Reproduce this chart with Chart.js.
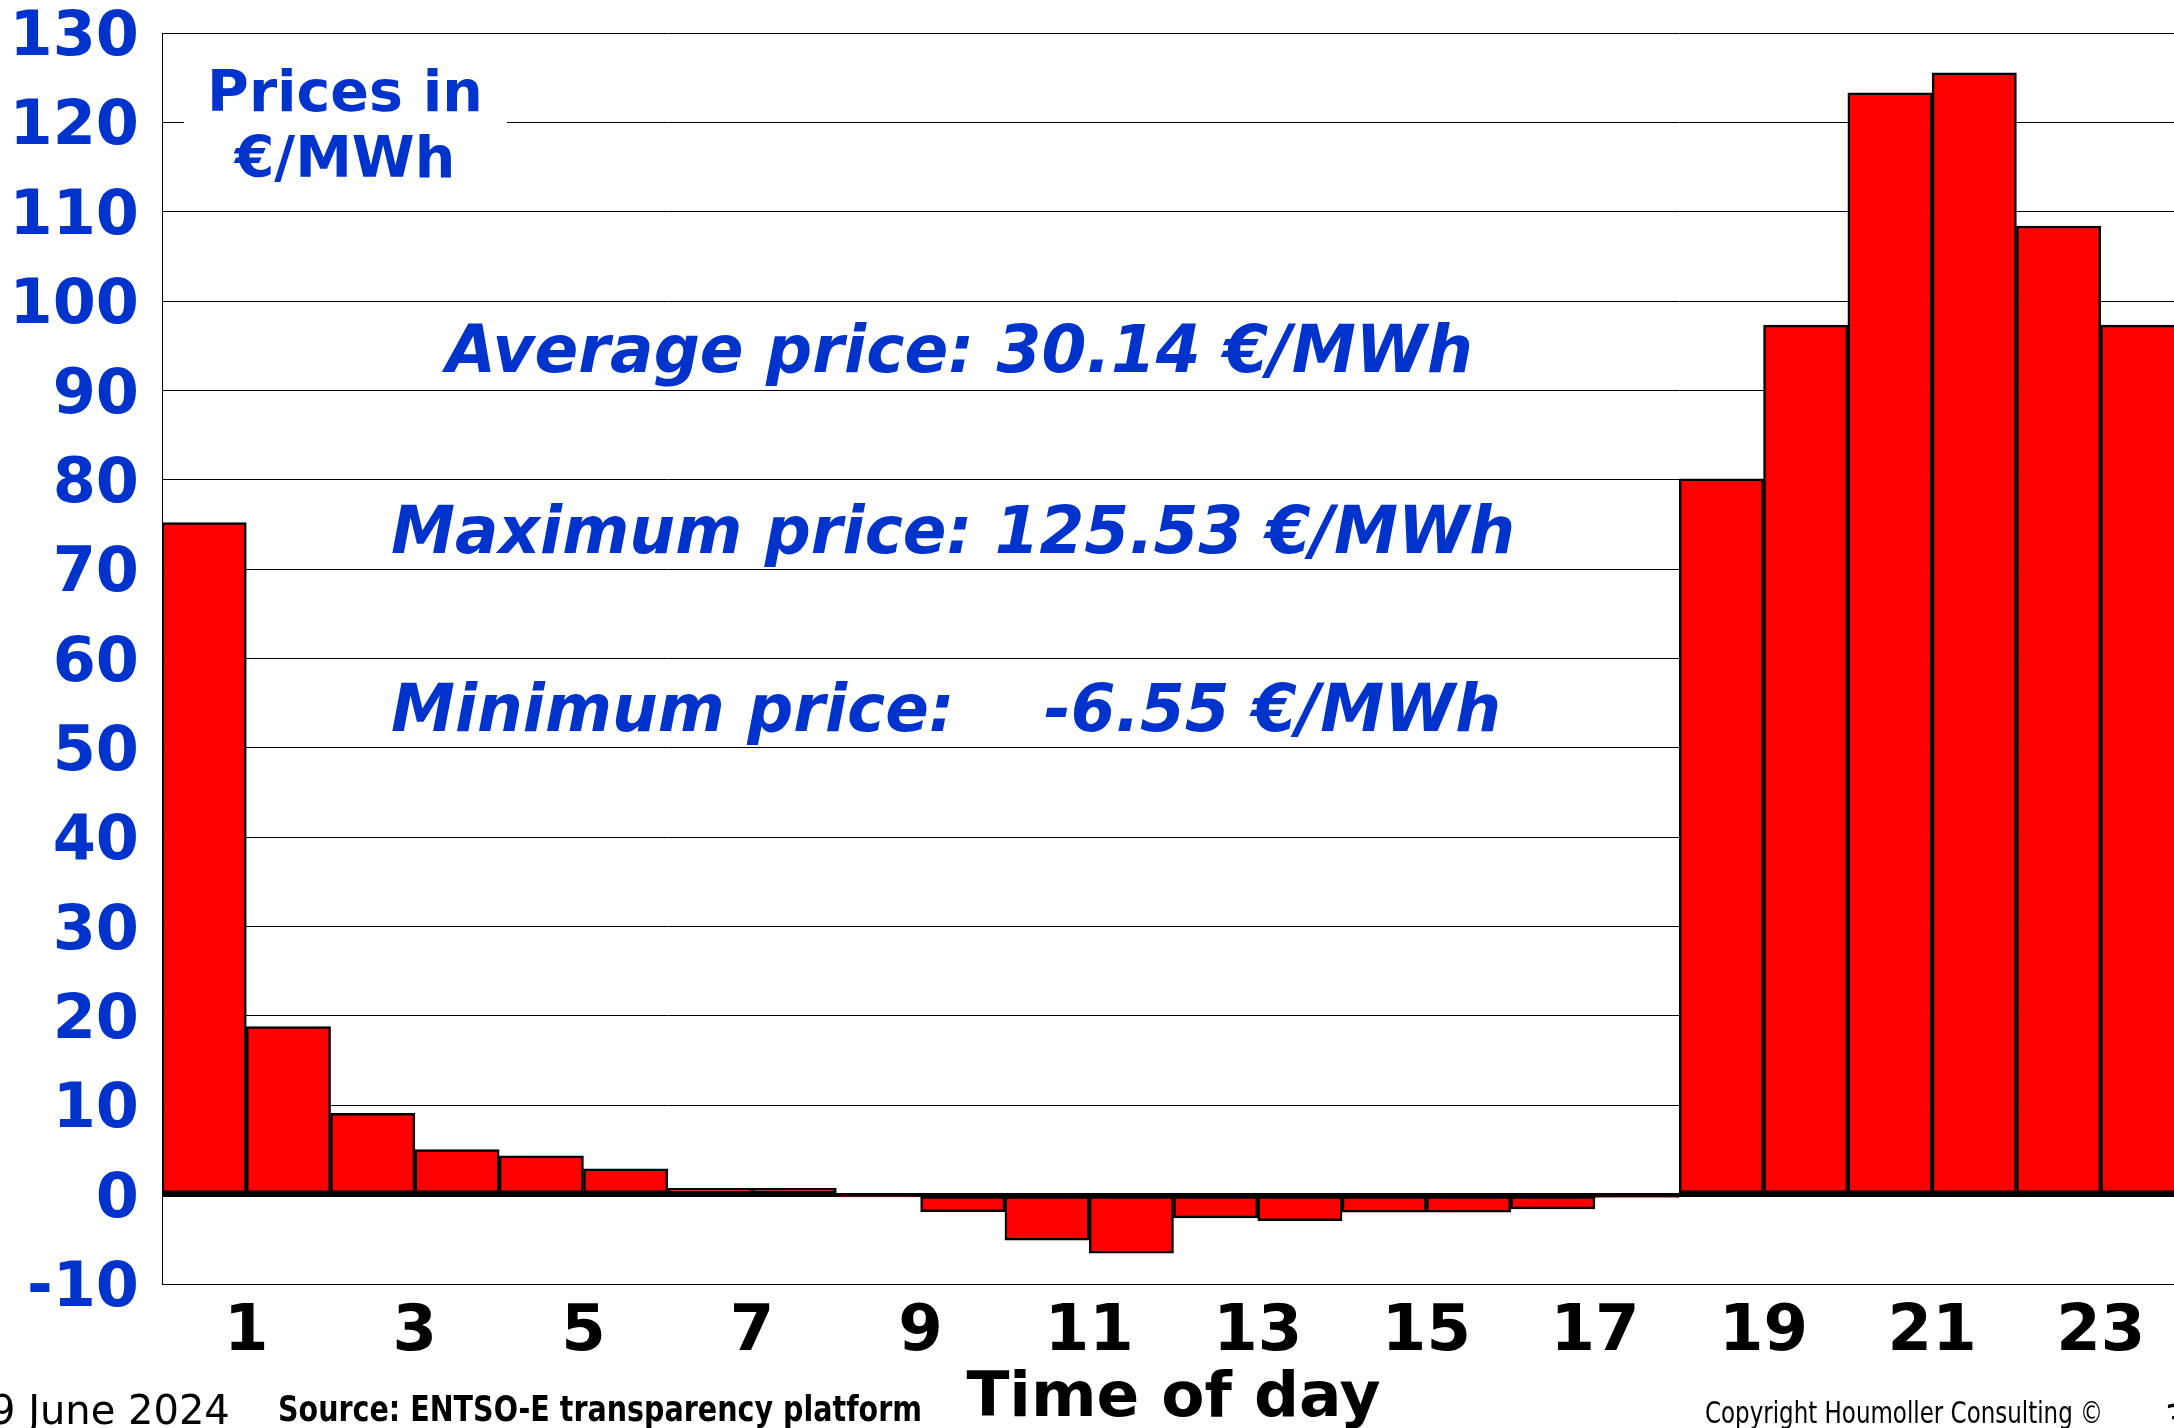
<!DOCTYPE html>
<html>
<head>
<meta charset="utf-8">
<script src="https://cdn.jsdelivr.net/npm/chart.js@4.4.1/dist/chart.umd.min.js"></script>
<style>
    html, body { margin: 0; padding: 0; background: #fff; overflow: hidden; }
    #wrap { position: absolute; left: 0; top: 0; width: 2200px; height: 1428px; }
</style>
</head>
<body>
<div id="wrap"><canvas id="priceChart"></canvas></div>
<script>
// hourly prices, €/MWh (hour 1..24)
const hours = [1, 2, 3, 4, 5, 6, 7, 8, 9, 10, 11, 12, 13, 14, 15, 16, 17, 18, 19, 20, 21, 22, 23, 24];
const prices = [75.2, 18.8, 9.1, 5.05, 4.35, 2.9, 0.72, 0.7, -0.25, -1.9, -5.1, -6.55,
    -2.6, -2.9, -1.95, -1.95, -1.6, -0.3, 80.1, 97.3, 123.3, 125.53, 108.4, 97.3];
const xTickLabels = [1, 3, 5, 7, 9, 11, 13, 15, 17, 19, 21, 23];

const BLUE = '#0033CC';
const FONT = '"DejaVu Sans", Verdana, sans-serif';

const notes = {
    id: 'notes',
    afterDatasetsDraw(chart) {
        const ctx = chart.ctx;
        ctx.save();
        // unit box over the grid
        ctx.fillStyle = '#fff';
        ctx.fillRect(184, 50, 323, 145);
        ctx.fillStyle = BLUE;
        ctx.textAlign = 'center';
        ctx.textBaseline = 'alphabetic';
        ctx.font = 'bold 57px ' + FONT;
        ctx.fillText('Prices in', 345, 111);
        ctx.fillText('€/MWh', 345, 177);

        ctx.textAlign = 'left';
        ctx.font = 'italic bold 66px ' + FONT;
        ctx.fillText('Average price: 30.14 €/MWh', 446, 372, 1027);
        ctx.fillText('Maximum price: 125.53 €/MWh', 391, 553, 1124);
        ctx.fillText('Minimum price:    -6.55 €/MWh', 391, 731, 1110);
        ctx.restore();
    },
    afterDraw(chart) {
        const ctx = chart.ctx;
        ctx.save();
        ctx.fillStyle = '#000';
        ctx.textAlign = 'left';
        ctx.textBaseline = 'alphabetic';
        ctx.font = '40px ' + FONT;
        ctx.fillText('9 June 2024', -10, 1424, 243);
        ctx.font = 'bold 35px ' + FONT;
        ctx.fillText('Source: ENTSO-E transparency platform', 278, 1421, 644);
        ctx.font = '30px ' + FONT;
        ctx.fillText('Copyright Houmoller Consulting ©', 1705, 1423, 398);
        ctx.font = '40px ' + FONT;
        ctx.fillText('3', 2164, 1434);
        ctx.restore();
    }
};

new Chart(document.getElementById('priceChart'), {
    type: 'bar',
    data: {
        datasets: [{
            data: hours.map((h, i) => ({ x: h - 0.5, y: prices[i] })),
            backgroundColor: '#FF0000',
            borderColor: '#000',
            borderWidth: 2.5,
            borderSkipped: false,
            barPercentage: 1,
            categoryPercentage: 1
        }]
    },
    options: {
        responsive: true,
        maintainAspectRatio: false,
        animation: false,
        layout: { padding: { left: 0, top: 33, right: 15, bottom: 0 } },
        plugins: {
            legend: { display: false },
            tooltip: { enabled: false }
        },
        scales: {
            x: {
                type: 'linear',
                min: 0,
                max: 24,
                offset: false,
                grid: { display: false, drawTicks: false },
                border: { color: '#000', width: 1 },
                afterBuildTicks(scale) {
                    scale.ticks = xTickLabels.map(v => ({ value: v }));
                },
                afterFit(scale) { scale.height = 144; },
                ticks: {
                    color: '#000',
                    padding: 11,
                    maxRotation: 0,
                    autoSkip: false,
                    font: { family: FONT, size: 64, weight: 'bold', lineHeight: 1.2 }
                },
                title: {
                    display: true,
                    text: 'Time of day',
                    color: '#000',
                    padding: { top: 0, bottom: 0 },
                    font: { family: FONT, size: 63, weight: 'bold', lineHeight: 0.9 }
                }
            },
            y: {
                min: -10,
                max: 130,
                grid: {
                    color: '#000',
                    lineWidth: ctx => (ctx.tick && ctx.tick.value === 0 ? 4 : 1),
                    drawTicks: false
                },
                border: { color: '#000', width: 1 },
                afterFit(scale) {
                    scale.width = 162;
                    scale.paddingTop = 0;
                    scale.paddingBottom = 0;
                },
                ticks: {
                    stepSize: 10,
                    color: BLUE,
                    padding: 23,
                    labelOffset: 6,
                    font: { family: FONT, size: 62, weight: 'bold', lineHeight: 1 }
                }
            }
        }
    },
    plugins: [notes]
});
</script>
</body>
</html>
